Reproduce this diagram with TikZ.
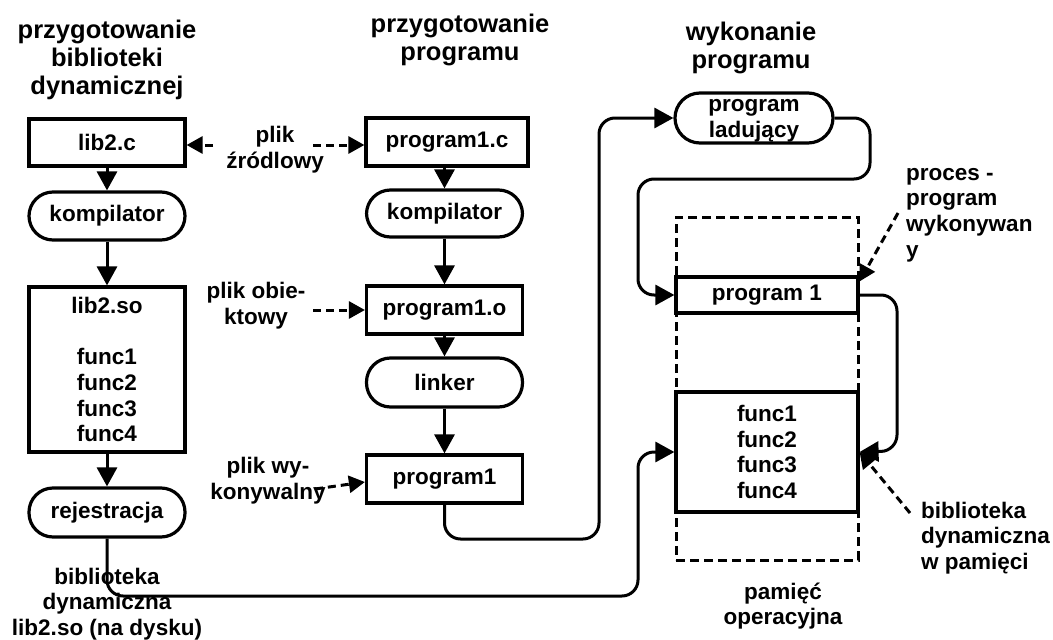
\documentclass[tikz,border=0pt]{standalone}
\usepackage{fontspec}
\setmainfont{Liberation Sans}
\usetikzlibrary{arrows.meta}
\begin{document}
\begin{tikzpicture}[x=1pt,y=-1pt,
  every node/.style={font=\bfseries\fontsize{22.5}{25.7}\selectfont, inner sep=0pt, align=center},
  title/.style={font=\bfseries\fontsize{25.5}{27.8}\selectfont},
  box/.style={draw, line width=3.2pt, minimum width=156pt},
  pill/.style={box, rounded corners=24pt},
  conn/.style={line width=3pt, -{Triangle[length=19pt,width=20pt]}, rounded corners=16pt},
  darr/.style={line width=3pt, dash pattern=on 8pt off 5pt, -{Triangle[length=16pt,width=17pt]}},
]
\useasboundingbox (0,0) rectangle (1053,640);

% titles
\node[title] (t1) at (107,60) {przygotowanie\\biblioteki\\dynamicznej};
\node[title] (t2) at (460,40) {przygotowanie\\programu};
\node[title] (t3) at (751,48) {wykonanie\\programu};

% left column
\node[box, minimum height=47pt] (lib2c) at (107,142.5) {lib2.c};
\node[pill, minimum height=48pt] (komp1) at (107,216) {kompilator};
\node[box, minimum height=165pt] (lib2so) at (107,369.5) {lib2.so\\[25.7pt]func1\\func2\\func3\\func4};
\node[pill, minimum height=49pt] (rej) at (107,512.5) {rejestracja};

% middle column
\node[box, minimum width=162pt, minimum height=48pt] (prog1c) at (447,142) {program1.c};
\node[pill, minimum height=47pt] (komp2) at (444.5,213.5) {kompilator};
\node[box, minimum height=48pt] (prog1o) at (444.5,310) {program1.o};
\node[pill, minimum height=49pt] (linker) at (444.5,382.5) {linker};
\node[box, minimum height=48pt] (prog1) at (444.5,479) {program1};

% right column
\node[pill, minimum width=158pt, minimum height=50pt, rounded corners=25pt] (loader) at (754,118) {\strut program\\ladujący};
\node[draw, line width=3pt, dash pattern=on 9pt off 5pt, minimum width=182pt, minimum height=343pt] (mem) at (767,388.5) {};
\node[box, minimum width=182pt, minimum height=36pt] (p1) at (767,295) {program 1};
\node[box, minimum width=182pt, minimum height=120pt] (func) at (767,452) {func1\\func2\\func3\\func4};

% labels
\node (src) at (275,150) {plik\\źródlowy};
\node (obj) at (256,306) {plik obie-\\ktowy};
\node (exe) at (268,481) {plik wy-\\konywalny};
\node (disk) at (107,604) {biblioteka\\dynamiczna\\lib2.so (na dysku)};
\node[anchor=west, align=left] (proc) at (906,215) {proces -\\program\\wykonywan\\y};
\node[anchor=west, align=left] (libmem) at (921,538) {biblioteka\\dynamiczna\\w pamięci};
\node (pam) at (783,606) {pamięć\\operacyjna};

% solid connectors
\draw[conn] (lib2c) -- (komp1);
\draw[conn] (komp1) -- (lib2so);
\draw[conn] (lib2so) -- (rej);
\draw[conn] (komp2.north |- prog1c.south) -- (komp2.north);
\draw[conn] (komp2) -- (prog1o);
\draw[conn] (prog1o) -- (linker);
\draw[conn] (linker) -- (prog1);
\draw[conn] (prog1.south) -- (444.5,539) -- (599,539) -- (599,118) -- (loader.west);
\draw[conn] (loader.east) -- (870,118) -- (870,179) -- (638,179) -- (638,295) -- (p1.west);
\draw[conn] (p1.east) -- (897,295) -- (897,451) -- (func.east);
\draw[conn] (rej.south) -- (107,596) -- (638,596) -- (638,452) -- (func.west);

% dashed pointers
\coordinate (srcL) at (213,145);
\draw[darr] (srcL) -- (lib2c.east |- srcL);
\coordinate (srcR) at (313,145);
\draw[darr] (srcR) -- (prog1c.west |- srcR);
\coordinate (objR) at (313,310);
\draw[darr] (objR) -- (prog1o.west);
\coordinate (exeR) at (315,489);
\draw[darr] (exeR) -- ([yshift=-3pt]prog1.west);
\coordinate (procT) at (898,213);
\draw[darr] (procT) -- ([yshift=-6pt]p1.north east);
\coordinate (libT) at (910,513);
\draw[darr] (libT) -- (func.east);
\end{tikzpicture}
\end{document}
